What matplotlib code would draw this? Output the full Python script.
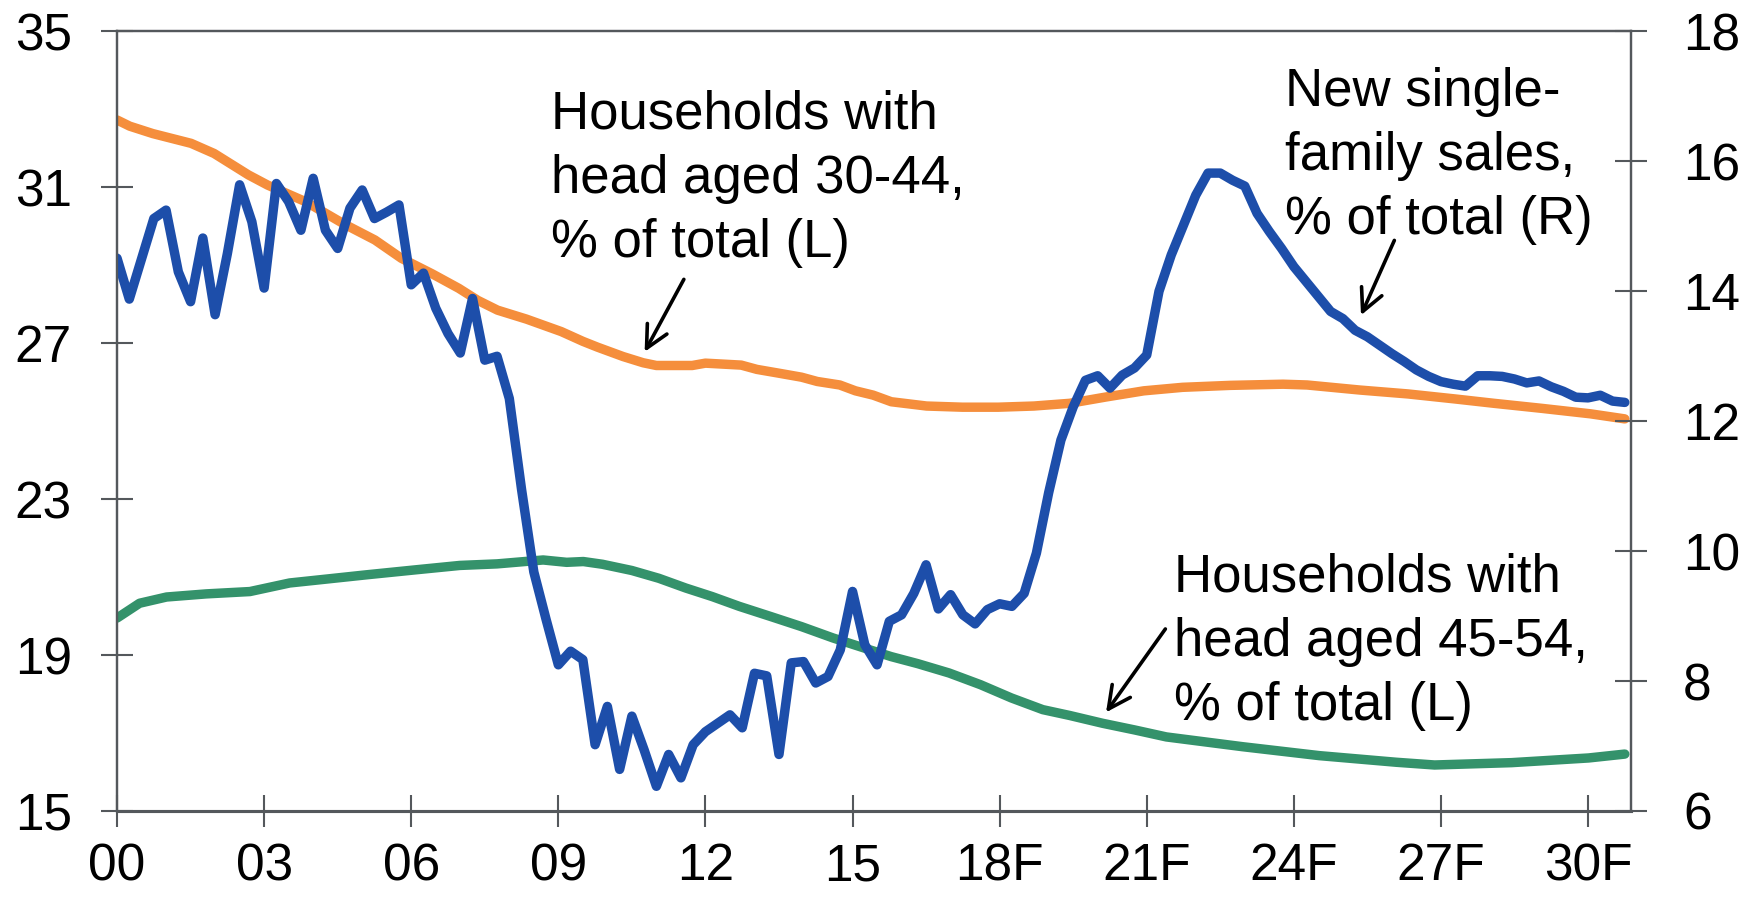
import matplotlib
matplotlib.use("Agg")
import matplotlib.pyplot as plt
import numpy as np

plt.rcParams['font.family'] = ['Liberation Sans', 'DejaVu Sans']

# new single-family sales, % of total (R) - quarterly from 2000Q1
sales = [14.51, 13.88, 14.50, 15.12,
         15.25, 14.30, 13.84, 14.82,
         13.64, 14.58, 15.64, 15.07,
         14.05, 15.66, 15.38, 14.94,
         15.74, 14.94, 14.66, 15.28,
         15.56, 15.12, 15.22, 15.33,
         14.10, 14.28, 13.74, 13.35,
         13.05, 13.89, 12.94, 13.00,
         12.35, 10.95, 9.68, 8.95,
         8.25, 8.46, 8.33, 7.02,
         7.61, 6.64, 7.46, 6.94,
         6.38, 6.87, 6.51, 7.02,
         7.22, 7.35, 7.48, 7.28,
         8.12, 8.08, 6.87, 8.28,
         8.30, 7.97, 8.07, 8.48,
         9.38, 8.56, 8.25, 8.92,
         9.02, 9.35, 9.79, 9.11,
         9.33, 9.02, 8.88, 9.10,
         9.19, 9.15, 9.35, 9.97,
         10.90, 11.71, 12.22, 12.63,
         12.70, 12.51, 12.71, 12.82,
         13.02, 14.00, 14.56, 15.02,
         15.48, 15.82, 15.82, 15.71,
         15.62, 15.20, 14.92, 14.66,
         14.38, 14.15, 13.92, 13.69,
         13.58, 13.40, 13.30, 13.17,
         13.04, 12.92, 12.79, 12.69,
         12.61, 12.57, 12.54, 12.70,
         12.70, 12.69, 12.65, 12.59,
         12.62, 12.53, 12.46, 12.37,
         12.36, 12.40, 12.31, 12.29]
sales_x = [2000 + i / 4 for i in range(len(sales))]

# households with head aged 30-44, % of total (L)
hh3044_x = [2000.0, 2000.26, 2000.73, 2001.51, 2001.98, 2002.68, 2003.07, 2003.85,
            2004.63, 2005.26, 2005.80, 2006.43, 2006.97, 2007.36, 2007.76, 2008.35,
            2009.06, 2009.50, 2009.80, 2010.32, 2010.73, 2011.0, 2011.73, 2012.0,
            2012.73, 2013.05, 2013.51, 2013.96, 2014.28, 2014.74, 2015.06, 2015.42,
            2015.79, 2016.51, 2017.24, 2017.97, 2018.70, 2019.43, 2020.16, 2020.94,
            2021.73, 2022.70, 2023.78, 2024.27, 2025.35, 2026.33, 2027.30, 2028.08,
            2029.06, 2030.05, 2030.75]
hh3044 = [32.73, 32.57, 32.38, 32.13, 31.87, 31.32, 31.06, 30.63,
          30.06, 29.65, 29.18, 28.78, 28.41, 28.10, 27.85, 27.62,
          27.30, 27.05, 26.90, 26.66, 26.50, 26.43, 26.43, 26.49,
          26.44, 26.33, 26.23, 26.13, 26.02, 25.93, 25.78, 25.67,
          25.50, 25.39, 25.36, 25.36, 25.39, 25.46, 25.62, 25.78,
          25.87, 25.92, 25.95, 25.93, 25.80, 25.70, 25.57, 25.46,
          25.33, 25.19, 25.06]

# households with head aged 45-54, % of total (L)
hh4554_x = [2000.0, 2000.46, 2001.01, 2001.82, 2002.71, 2003.52, 2004.27, 2005.09,
            2006.11, 2006.99, 2007.75, 2008.69, 2009.17, 2009.51, 2009.90, 2010.50,
            2011.05, 2011.60, 2012.14, 2012.69, 2013.33, 2013.96, 2014.60, 2015.24,
            2015.79, 2016.33, 2016.97, 2017.61, 2018.24, 2018.88, 2019.43, 2020.10,
            2020.75, 2021.40, 2022.95, 2024.52, 2026.09, 2026.87, 2028.44, 2030.01,
            2030.75]
hh4554 = [19.95, 20.33, 20.49, 20.57, 20.63, 20.85, 20.95, 21.06,
          21.19, 21.30, 21.34, 21.44, 21.38, 21.40, 21.33, 21.17,
          20.97, 20.72, 20.50, 20.25, 19.99, 19.73, 19.44, 19.18,
          18.96, 18.78, 18.54, 18.24, 17.90, 17.60, 17.45, 17.25,
          17.08, 16.90, 16.65, 16.42, 16.25, 16.18, 16.24, 16.36,
          16.46]

xticks = [2000, 2003, 2006, 2009, 2012, 2015, 2018, 2021, 2024, 2027, 2030]
xlabels = ['00', '03', '06', '09', '12', '15', '18F', '21F', '24F', '27F', '30F']

gray = '#54585c'
fig = plt.figure(figsize=(17.52, 8.97), dpi=100)
ax = fig.add_axes([0.0668, 0.0959, 0.9309 - 0.0668, 0.9649 - 0.0959])
ax2 = ax.twinx()

ax.plot(hh3044_x, hh3044, color='#f58e3c', lw=6.8, solid_capstyle='round')
ax.plot(hh4554_x, hh4554, color='#34926b', lw=6.8, solid_capstyle='round')
ax2.plot(sales_x, sales, color='#1d4eaa', lw=6.8, solid_capstyle='round',
         solid_joinstyle='round')

ax.set_xlim(2000, 2030.875)
ax.set_ylim(15, 35)
ax.set_yticks(np.arange(15, 36, 4))
ax2.set_ylim(6, 18)
ax2.set_yticks(np.arange(6, 19, 2))
ax.set_xticks(xticks)
ax.set_xticklabels(xlabels)

for a in (ax, ax2):
    for s in a.spines.values():
        s.set_color(gray)
        s.set_linewidth(1.6)
    a.spines['bottom'].set_linewidth(2.2)
ax.tick_params(axis='x', direction='inout', length=23, width=1.5, color=gray,
               labelsize=37, pad=11)
ax.tick_params(axis='y', direction='inout', length=23, width=1.5, color=gray,
               labelsize=37, pad=21)
ax2.tick_params(axis='y', direction='inout', length=23, width=1.5, color=gray,
                labelsize=37, pad=26)

txt = dict(fontsize=38, ha='left', va='top', linespacing=1.36, color='black')
ax.text(2008.86, 33.5, "Households with\nhead aged 30-44,\n% of total (L)", **txt)
ax.text(2023.83, 34.08, "New single-\nfamily sales,\n% of total (R)", **txt)
ax.text(2021.55, 21.62, "Households with\nhead aged 45-54,\n% of total (L)", **txt)

arrow = dict(arrowstyle='->', lw=2.6, color='black', mutation_scale=40,
             shrinkA=0, shrinkB=0)
ax.annotate('', xy=(2010.76, 26.78), xytext=(2011.56, 28.64), arrowprops=arrow)
ax.annotate('', xy=(2025.37, 27.72), xytext=(2026.05, 29.64), arrowprops=arrow)
ax.annotate('', xy=(2020.17, 17.53), xytext=(2021.38, 19.67), arrowprops=arrow)

fig.savefig('out.png', dpi=100)
